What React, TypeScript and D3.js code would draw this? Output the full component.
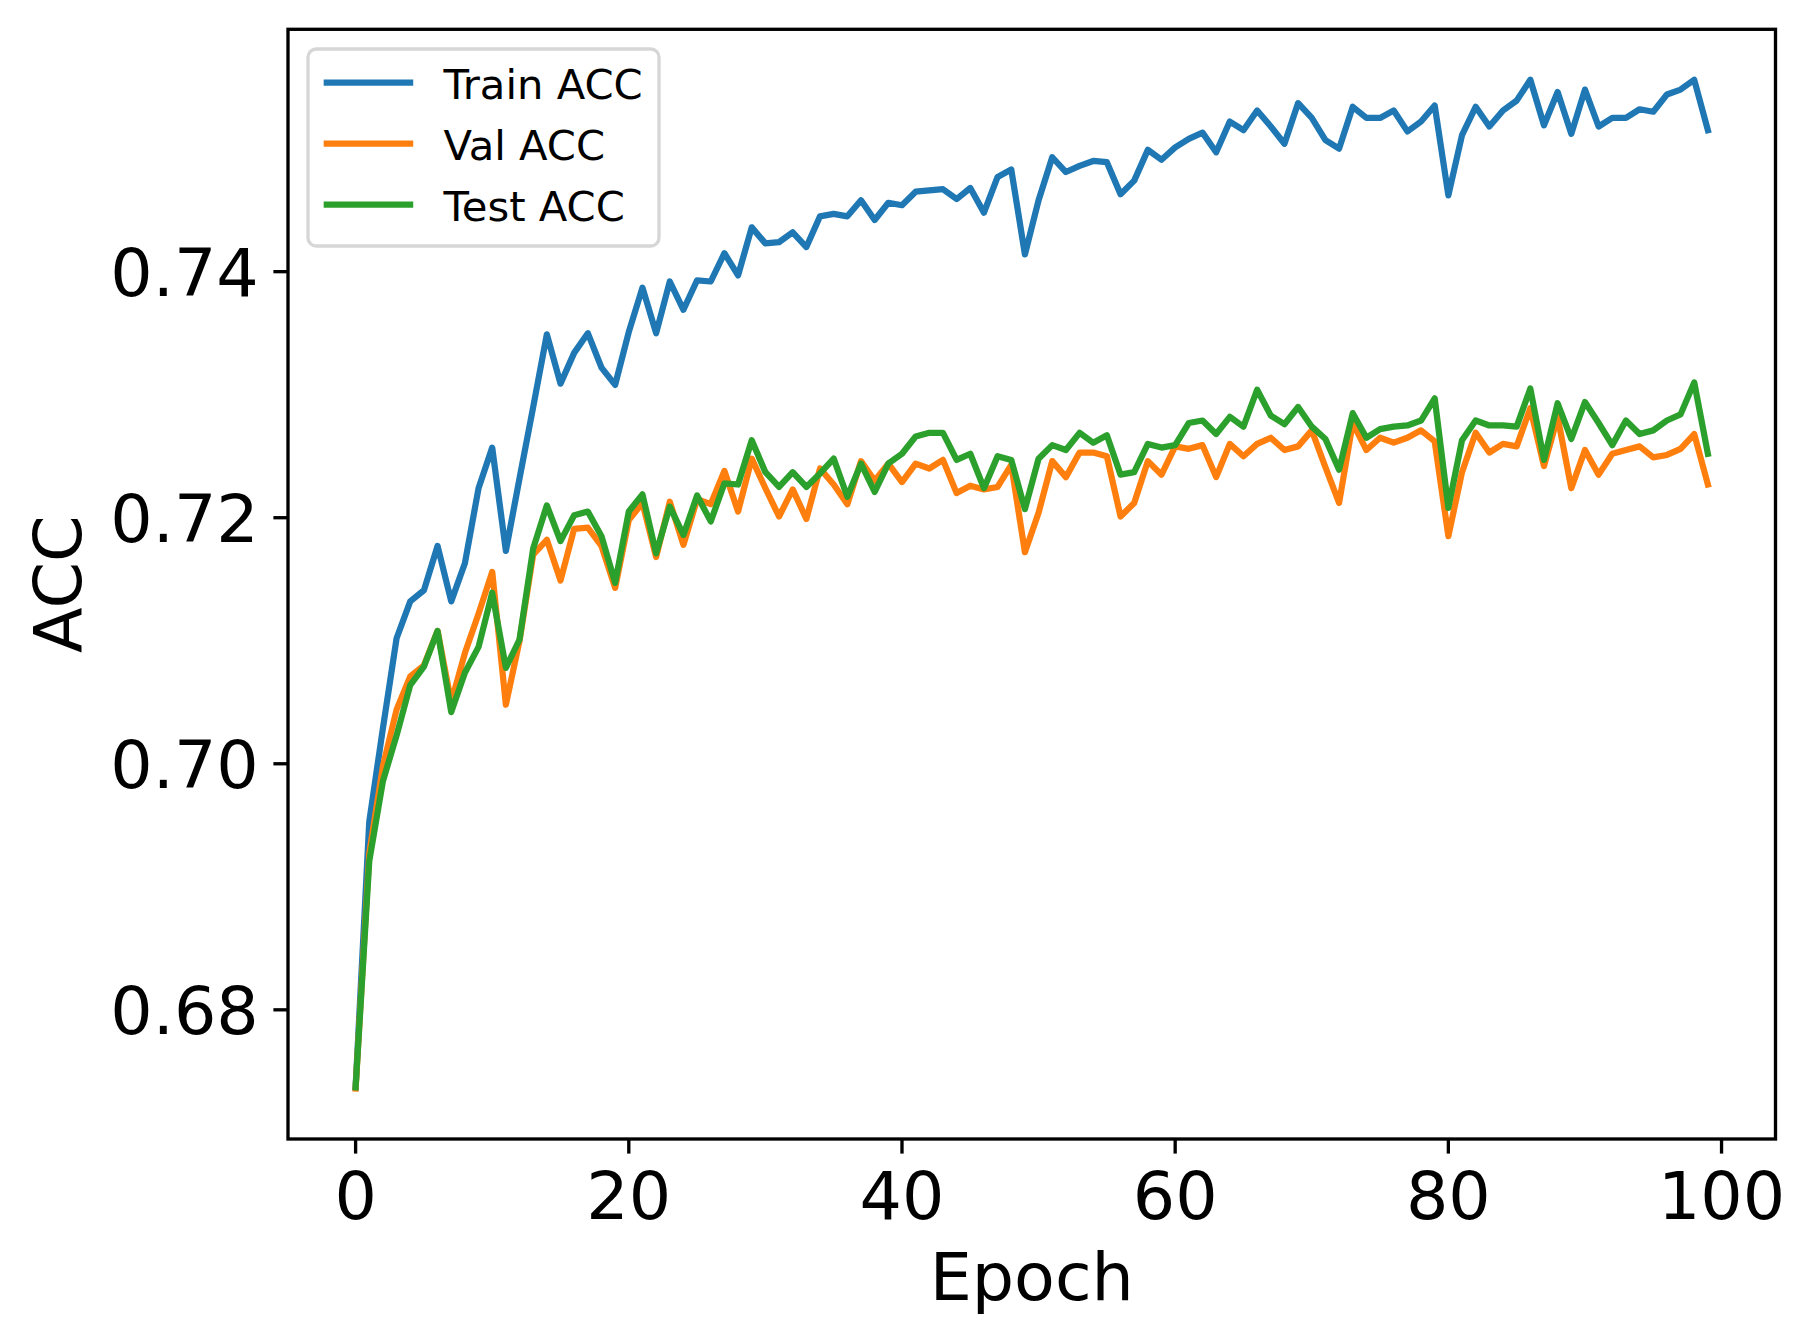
import React from "react";
import * as d3 from "d3";

const epochs = d3.range(100);

const trainAcc = [
  0.6737, 0.6953, 0.7029, 0.7102, 0.7132, 0.7141, 0.7177, 0.7132, 0.7163, 0.7224,
  0.7257, 0.7173, 0.7232, 0.729, 0.7349, 0.7309, 0.7334, 0.735, 0.7322, 0.7308,
  0.7351, 0.7387, 0.735, 0.7392, 0.7369, 0.7393, 0.7392, 0.7415, 0.7397, 0.7436,
  0.7423, 0.7424, 0.7432, 0.742, 0.7445, 0.7447, 0.7445, 0.7458, 0.7442, 0.7456,
  0.7454, 0.7465, 0.7466, 0.7467, 0.7459, 0.7468, 0.7448, 0.7477, 0.7483, 0.7414,
  0.7458, 0.7493, 0.7481, 0.7486, 0.749, 0.7489, 0.7463, 0.7474, 0.7499, 0.7491,
  0.7501, 0.7508, 0.7513, 0.7497, 0.7522, 0.7515, 0.7531, 0.7518, 0.7504, 0.7537,
  0.7525, 0.7507, 0.75, 0.7534, 0.7525, 0.7525, 0.7531, 0.7514, 0.7522, 0.7535,
  0.7462, 0.7511, 0.7534, 0.7518, 0.7531, 0.7539, 0.7556, 0.7519, 0.7546, 0.7512,
  0.7548, 0.7518, 0.7525, 0.7525, 0.7532, 0.753, 0.7544, 0.7548, 0.7556, 0.7515,
];

const valAcc = [
  0.6736, 0.6927, 0.6998, 0.7044, 0.7071, 0.708, 0.7108, 0.705, 0.709, 0.7122,
  0.7156, 0.7048, 0.71, 0.717, 0.7182, 0.7149, 0.7191, 0.7192, 0.7177, 0.7143,
  0.7198, 0.7212, 0.7168, 0.7213, 0.7178, 0.7215, 0.7211, 0.7238, 0.7205, 0.7248,
  0.7224, 0.7201, 0.7223, 0.7199, 0.724, 0.7227, 0.7211, 0.7246, 0.723, 0.7244,
  0.7229, 0.7244, 0.724, 0.7247, 0.722, 0.7226, 0.7223, 0.7225, 0.7243, 0.7172,
  0.7204, 0.7246, 0.7233, 0.7253, 0.7253, 0.725, 0.7201, 0.7212, 0.7246, 0.7235,
  0.7258, 0.7256, 0.7259, 0.7233, 0.726, 0.725, 0.726, 0.7265, 0.7255, 0.7258,
  0.7271, 0.7241, 0.7212, 0.7277, 0.7255, 0.7265, 0.7261, 0.7265, 0.7271, 0.7262,
  0.7185, 0.7237, 0.7269, 0.7253, 0.726, 0.7258, 0.7289, 0.7242, 0.7282, 0.7224,
  0.7255, 0.7235, 0.7252, 0.7255, 0.7258, 0.7249, 0.7251, 0.7256, 0.7268, 0.7227,
];

const testAcc = [
  0.6737, 0.6921, 0.6986, 0.7023, 0.7064, 0.7079, 0.7108, 0.7042, 0.7074, 0.7095,
  0.7139, 0.7078, 0.7101, 0.7175, 0.721, 0.7181, 0.7202, 0.7205, 0.7185, 0.7147,
  0.7205, 0.7219, 0.7171, 0.7209, 0.7186, 0.7218, 0.7197, 0.7228, 0.7227, 0.7263,
  0.7237, 0.7225, 0.7237, 0.7225, 0.7236, 0.7248, 0.7217, 0.7244, 0.7221, 0.7244,
  0.7252, 0.7266, 0.7269, 0.7269, 0.7247, 0.7252, 0.7224, 0.725, 0.7247, 0.7207,
  0.7248, 0.7259, 0.7255, 0.7269, 0.7261, 0.7267, 0.7235, 0.7237, 0.726, 0.7257,
  0.7259, 0.7277, 0.7279, 0.7268, 0.7282, 0.7274, 0.7304, 0.7283, 0.7276, 0.729,
  0.7274, 0.7264, 0.7239, 0.7285, 0.7265, 0.7272, 0.7274, 0.7275, 0.7279, 0.7297,
  0.7208, 0.7263, 0.7279, 0.7275, 0.7275, 0.7274, 0.7305, 0.7247, 0.7293, 0.7264,
  0.7294, 0.7277, 0.7259, 0.7279, 0.7268, 0.7271, 0.7279, 0.7284, 0.731, 0.7252,
];

const xTicks = [0, 20, 40, 60, 80, 100];
const yTicks = [0.68, 0.7, 0.72, 0.74];

const SERIES = [
  { key: "train", label: "Train ACC", color: "#1f77b4", values: trainAcc },
  { key: "val", label: "Val ACC", color: "#ff7f0e", values: valAcc },
  { key: "test", label: "Test ACC", color: "#2ca02c", values: testAcc },
];

const W = 1815;
const H = 1342;
const plot = { left: 288, right: 1775.5, top: 29.3, bottom: 1139 };
const FONT = "DejaVu Sans, sans-serif";
const tickLen = 14.6;
const spineW = 3.33;

export default function App() {
  // matplotlib-style 5% margins
  const allVals = SERIES.flatMap((s) => s.values);
  const [lo, hi] = d3.extent(allVals) as [number, number];
  const pad = (hi - lo) * 0.05;
  const xPad = (epochs[epochs.length - 1] - epochs[0]) * 0.05;

  const x = d3
    .scaleLinear()
    .domain([epochs[0] - xPad, epochs[epochs.length - 1] + xPad])
    .range([plot.left, plot.right]);
  const y = d3.scaleLinear().domain([lo - pad, hi + pad]).range([plot.bottom, plot.top]);

  const line = d3
    .line<number>()
    .x((_, i) => x(epochs[i]))
    .y((d) => y(d));

  return (
    <div style={{ position: "absolute", left: 0, top: 0 }}>
      <svg width={W} height={H} style={{ display: "block", background: "#fff" }}>
        <defs>
          <clipPath id="plot-clip">
            <rect x={plot.left} y={plot.top} width={plot.right - plot.left} height={plot.bottom - plot.top} />
          </clipPath>
        </defs>

        {/* Lines */}
        <g clipPath="url(#plot-clip)">
          {SERIES.map((s) => (
            <path
              key={s.key}
              d={line(s.values) || ""}
              fill="none"
              stroke={s.color}
              strokeWidth={6.25}
              strokeLinejoin="round"
              strokeLinecap="square"
            />
          ))}
        </g>

        {/* Spines */}
        <rect
          x={plot.left}
          y={plot.top}
          width={plot.right - plot.left}
          height={plot.bottom - plot.top}
          fill="none"
          stroke="#000"
          strokeWidth={spineW}
          strokeLinejoin="miter"
        />

        {/* Y axis */}
        {yTicks.map((t) => (
          <g key={t}>
            <line x1={plot.left - tickLen} x2={plot.left} y1={y(t)} y2={y(t)} stroke="#000" strokeWidth={spineW} />
            <text
              x={plot.left - tickLen - 14.6}
              y={y(t) + 24.3}
              fontSize={66.7}
              fontFamily={FONT}
              textAnchor="end"
              fill="#000"
            >
              {d3.format(".2f")(t)}
            </text>
          </g>
        ))}

        {/* X axis */}
        {xTicks.map((t) => (
          <g key={t}>
            <line x1={x(t)} x2={x(t)} y1={plot.bottom} y2={plot.bottom + tickLen} stroke="#000" strokeWidth={spineW} />
            <text x={x(t)} y={1218.5} fontSize={66.7} fontFamily={FONT} textAnchor="middle" fill="#000">
              {t}
            </text>
          </g>
        ))}

        {/* Axis labels */}
        <text
          x={(plot.left + plot.right) / 2}
          y={1300}
          fontSize={66.7}
          fontFamily={FONT}
          textAnchor="middle"
          fill="#000"
        >
          Epoch
        </text>
        <text
          transform={`translate(81,${(plot.top + plot.bottom) / 2}) rotate(-90)`}
          fontSize={66.7}
          fontFamily={FONT}
          textAnchor="middle"
          fill="#000"
        >
          ACC
        </text>

        {/* Legend */}
        <g>
          <rect
            x={308}
            y={49}
            width={351}
            height={197}
            rx={8.3}
            ry={8.3}
            fill="rgba(255,255,255,0.8)"
            stroke="rgba(204,204,204,0.8)"
            strokeWidth={3.3}
          />
          {SERIES.map((s, i) => {
            const ly = 82.5 + i * 61.1;
            return (
              <g key={s.key}>
                <line x1={326.8} x2={410.1} y1={ly} y2={ly} stroke={s.color} strokeWidth={6.25} strokeLinecap="square" />
                <text x={443.4} y={ly + 16.2} fontSize={41.7} fontFamily={FONT} fill="#000">
                  {s.label}
                </text>
              </g>
            );
          })}
        </g>
      </svg>
    </div>
  );
}
